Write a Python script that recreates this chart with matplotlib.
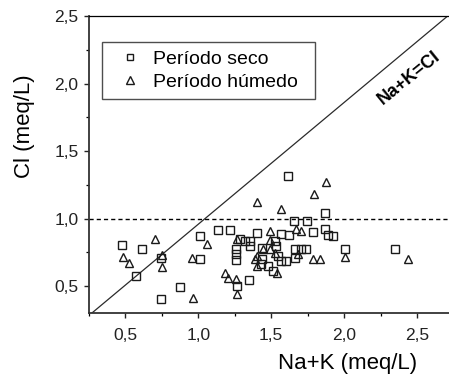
import matplotlib
matplotlib.use("Agg")
import matplotlib.pyplot as plt
import matplotlib.ticker as mticker

plt.rcParams["font.family"] = ["Liberation Sans", "DejaVu Sans"]

# ── Data ─────────────────────────────────────────────────────────────────────
seco_x = [1.615, 1.872, 1.656, 1.748, 1.787, 1.872, 1.886, 1.924, 1.135, 1.215,
          1.010, 0.477, 0.614, 0.571, 0.742, 0.877, 0.747, 1.010, 1.268, 1.348,
          1.261, 1.261, 1.261, 1.284, 1.318, 1.353, 1.353, 1.399, 1.440, 1.440,
          1.478, 1.512, 1.570, 1.536, 1.547, 1.570, 1.604, 1.620, 1.661, 1.707,
          1.741, 1.661, 2.009, 2.352, 1.433, 1.524]
seco_y = [1.313, 1.038, 0.981, 0.981, 0.899, 0.925, 0.875, 0.870, 0.914, 0.914,
          0.870, 0.801, 0.777, 0.574, 0.705, 0.496, 0.402, 0.698, 0.501, 0.545,
          0.772, 0.735, 0.693, 0.846, 0.833, 0.833, 0.796, 0.895, 0.784, 0.703,
          0.648, 0.611, 0.882, 0.796, 0.722, 0.685, 0.685, 0.875, 0.777, 0.777,
          0.777, 0.710, 0.777, 0.777, 0.661, 0.833]

humedo_x = [1.879, 1.794, 1.399, 1.570, 1.673, 1.707, 1.056, 0.701, 0.484, 0.525,
            0.751, 0.749, 0.960, 0.957, 1.268, 1.181, 1.204, 1.261, 1.268, 1.490,
            1.399, 1.399, 1.538, 1.684, 1.787, 1.833, 2.009, 2.438, 1.444, 1.490,
            1.524, 1.387, 1.490]
humedo_y = [1.269, 1.183, 1.121, 1.067, 0.919, 0.905, 0.809, 0.846, 0.718, 0.668,
            0.644, 0.727, 0.408, 0.705, 0.439, 0.600, 0.563, 0.550, 0.846, 0.905,
            0.722, 0.648, 0.594, 0.735, 0.703, 0.703, 0.718, 0.703, 0.772, 0.772,
            0.747, 0.698, 0.839]

# reference line as drawn in the original figure
ref_x = [0.27, 2.71]
ref_y = [0.30, 2.50]
limit_cl = 1.0


def _comma(x, _):
    return f"{x:.1f}".replace(".", ",")


fig = plt.figure(figsize=(4.49, 3.79), dpi=100)
ax = fig.add_axes([0.1982, 0.1741, 0.8118, 0.7836])

ax.plot(ref_x, ref_y, color="#2a2a2a", lw=0.9, zorder=2)
ax.axhline(limit_cl, color="black", lw=1.0, ls=(0, (3, 2.2)), zorder=2)

ax.plot(seco_x, seco_y, ls="none", marker="s", ms=5.2, mfc="none",
        mec="#1a1a1a", mew=1.0, label="Período seco", zorder=3)
ax.plot(humedo_x, humedo_y, ls="none", marker="^", ms=6.2, mfc="none",
        mec="#1a1a1a", mew=1.0, label="Período húmedo", zorder=3)

ax.text(2.443, 2.042, "Na+K=Cl", rotation=39, ha="center", va="center",
        fontsize=13, fontweight="bold")

ax.set_xlim(0.25, 2.75)
ax.set_ylim(0.3, 2.5)
ax.xaxis.set_minor_locator(mticker.MultipleLocator(0.25))
ax.yaxis.set_minor_locator(mticker.MultipleLocator(0.25))
ax.set_xticks([0.5, 1.0, 1.5, 2.0, 2.5])
ax.set_yticks([0.5, 1.0, 1.5, 2.0, 2.5])
ax.xaxis.set_major_formatter(mticker.FuncFormatter(_comma))
ax.yaxis.set_major_formatter(mticker.FuncFormatter(_comma))

ax.tick_params(which="major", direction="out", length=3.5, width=1.0,
               labelsize=12.5, colors="#222222")
ax.tick_params(axis="x", which="major", pad=7.5)
ax.tick_params(axis="y", which="major", pad=4)
ax.tick_params(which="minor", direction="out", length=2.0, width=0.9)
ax.tick_params(top=False, right=False, which="both")

for side in ["left", "bottom"]:
    ax.spines[side].set_linewidth(1.3)
    ax.spines[side].set_color("#333333")
ax.spines["top"].set_linewidth(0.9)
ax.spines["right"].set_visible(False)

ax.set_xlabel("Na+K (meq/L)", fontsize=16)
ax.set_ylabel("Cl (meq/L)", fontsize=16)
ax.xaxis.set_label_coords(0.709, -0.133)
ax.yaxis.set_label_coords(-0.148, 0.63)

leg = ax.legend(loc="upper left", bbox_to_anchor=(0.035, 0.713, 0.585, 0.2),
                mode="expand", borderaxespad=0, fontsize=14, frameon=True,
                fancybox=False, handlelength=2.0, handletextpad=0.2,
                borderpad=0.45, labelspacing=0.25, markerscale=0.9)
leg.get_frame().set_edgecolor("#222222")
leg.get_frame().set_linewidth(1.0)

fig.savefig("out.png", dpi=100)
